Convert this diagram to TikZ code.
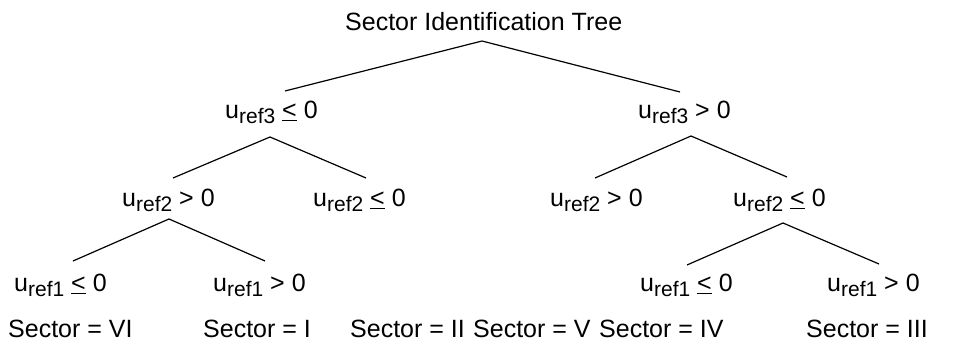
\documentclass[tikz,border=0pt]{standalone}
\usepackage{fontspec}
\setmainfont{Liberation Sans}
\newcommand{\uref}[1]{u\raisebox{-5pt}{\fontsize{21}{24}\selectfont ref#1}}
\newcommand{\ule}{\underline{<}}

\begin{document}
\begin{tikzpicture}[x=1pt, y=-1pt,
  lbl/.style={anchor=base west, inner sep=0pt, font=\fontsize{25}{30}\selectfont},
  branch/.style={line width=1.2pt}]
        \useasboundingbox (0,0) rectangle (954,347);

        % title
        \node[lbl] (title) at (345,31) {Sector Identification Tree};

        % tests on u_ref3
        \node[lbl] (r3neg) at (225,119) {\uref{3} \ule{} 0};
        \node[lbl] (r3pos) at (638,119) {\uref{3} > 0};

        % tests on u_ref2
        \node[lbl] (r2posL) at (122,207) {\uref{2} > 0};
        \node[lbl] (r2negL) at (313,207) {\uref{2} \ule{} 0};
        \node[lbl] (r2posR) at (550,207) {\uref{2} > 0};
        \node[lbl] (r2negR) at (733,207) {\uref{2} \ule{} 0};

        % tests on u_ref1
        \node[lbl] (r1negL) at (14,292) {\uref{1} \ule{} 0};
        \node[lbl] (r1posL) at (213,292) {\uref{1} > 0};
        \node[lbl] (r1negR) at (640,292) {\uref{1} \ule{} 0};
        \node[lbl] (r1posR) at (827,292) {\uref{1} > 0};

        % sectors
        \node[lbl] (s6) at (8,338) {Sector = VI};
        \node[lbl] (s1) at (203,338) {Sector = I};
        \node[lbl] (s2) at (350,338) {Sector = II};
        \node[lbl] (s5) at (473,338) {Sector = V};
        \node[lbl] (s4) at (599,338) {Sector = IV};
        \node[lbl] (s3) at (806,338) {Sector = III};

        % branch points
        \coordinate (f0) at (482,41);
        \coordinate (f0l) at (285,91);
        \coordinate (f0r) at (680,92);
        \coordinate (f1) at (270,137);
        \coordinate (f1l) at (173,178);
        \coordinate (f1r) at (366,178);
        \coordinate (f2) at (691,136);
        \coordinate (f2l) at (595,178);
        \coordinate (f2r) at (787,177);
        \coordinate (f3) at (169,219);
        \coordinate (f3l) at (73,261);
        \coordinate (f3r) at (265,261);
        \coordinate (f4) at (783,223);
        \coordinate (f4l) at (687,265);
        \coordinate (f4r) at (879,264);

        \draw[branch] (f0l) -- (f0) -- (f0r);
        \draw[branch] (f1l) -- (f1) -- (f1r);
        \draw[branch] (f2l) -- (f2) -- (f2r);
        \draw[branch] (f3l) -- (f3) -- (f3r);
        \draw[branch] (f4l) -- (f4) -- (f4r);
\end{tikzpicture}
\end{document}
